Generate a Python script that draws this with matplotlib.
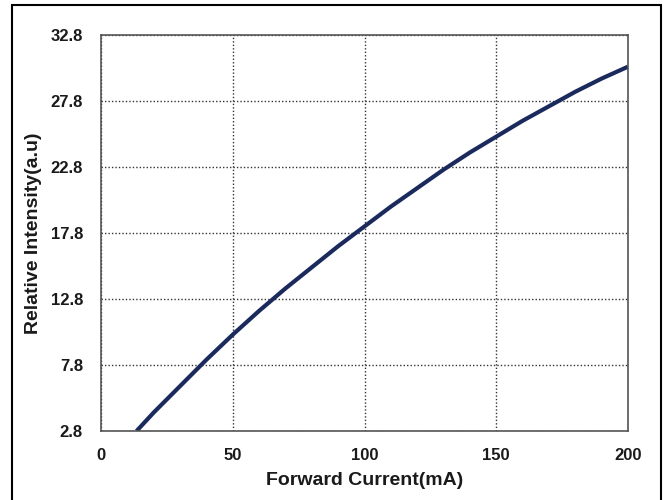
import matplotlib
matplotlib.use('Agg')
import matplotlib.pyplot as plt
from matplotlib.patches import Rectangle

current_ma = [13.5, 20, 30, 40, 50, 60, 70, 80, 90, 100, 110, 120, 130, 140, 150, 160, 170, 180, 190, 200]
intensity = [2.8, 4.2, 6.2, 8.2, 10.1, 11.9, 13.6, 15.2, 16.8, 18.3, 19.8, 21.2, 22.6, 23.9, 25.1, 26.3, 27.4, 28.5, 29.5, 30.4]

x_ticks = [0, 50, 100, 150, 200]
y_ticks = [2.8, 7.8, 12.8, 17.8, 22.8, 27.8, 32.8]
y_tick_labels = ['2.8', '7.8', '12.8', '17.8', '22.8', '27.8', '32.8']

plt.rcParams['font.family'] = ['Liberation Sans', 'DejaVu Sans']

fig = plt.figure(figsize=(6.66, 5.0), dpi=100)
ax = fig.add_axes([101 / 666, 1 - 431 / 500, 527 / 666, 396 / 500])

ax.plot(current_ma, intensity, color='#1b2a5c', linewidth=3, solid_capstyle='butt')

ax.set_xlim(0, 200)
ax.set_ylim(2.8, 32.8)
ax.set_xticks(x_ticks)
ax.set_yticks(y_ticks)
ax.set_yticklabels(y_tick_labels)
ax.tick_params(length=0, labelsize=12)
ax.tick_params(axis='y', pad=13)
ax.tick_params(axis='x', pad=12)
for lbl in ax.get_xticklabels() + ax.get_yticklabels():
    lbl.set_fontweight('bold')
    lbl.set_color('#1a1a1a')

ax.grid(True, color='#333333', linestyle=(0, (1, 1.5)), linewidth=1.0)
for s in ax.spines.values():
    s.set_color('#555555')
    s.set_linewidth(1.2)

ax.set_xlabel('Forward Current(mA)', fontsize=14, fontweight='bold', color='#1a1a1a', labelpad=7)
ax.set_ylabel('Relative Intensity(a.u)', fontsize=14, fontweight='bold', color='#1a1a1a', labelpad=6)

# outer frame around the figure
fig.patches.append(Rectangle((12 / 666, -0.01), 649 / 666, 1 - 5 / 500 + 0.01,
                             transform=fig.transFigure, fill=False,
                             edgecolor='black', linewidth=1.5))

fig.savefig('out.png', dpi=100)
